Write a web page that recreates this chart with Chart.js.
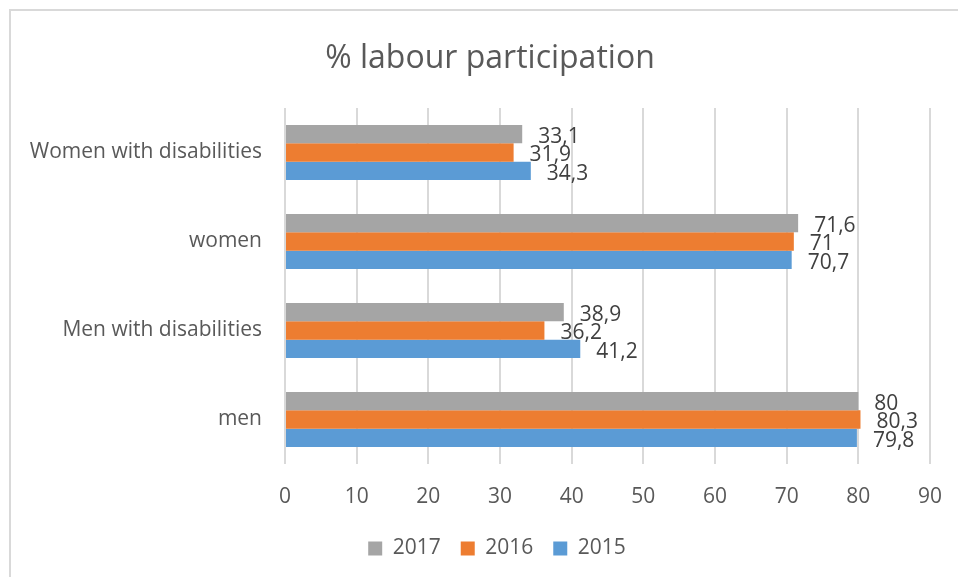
<!DOCTYPE html>
<html><head><meta charset="utf-8">
<script src="https://cdn.jsdelivr.net/npm/chart.js@4.4.1/dist/chart.umd.min.js"></script>
<style>
html,body{margin:0;padding:0;width:958px;height:577px;overflow:hidden;background:#fff;}
#frame{position:absolute;left:9px;top:9px;width:1000px;height:620px;border-left:2px solid #d9d9d9;border-top:2px solid #d9d9d9;}
#wrap{position:absolute;left:0;top:0;width:980px;height:577px;}
</style></head><body>
<div id="frame"></div>
<div id="wrap"><canvas id="c"></canvas></div>
<script>
const chartTitle = '% labour participation';
const categories = ['Women with disabilities', 'women', 'Men with disabilities', 'men'];
const seriesNames = ['2017', '2016', '2015'];
const values2017 = [33.1, 71.6, 38.9, 80];
const values2016 = [31.9, 71, 36.2, 80.3];
const values2015 = [34.3, 70.7, 41.2, 79.8];
const xMin = 0, xMax = 90, xStep = 10;
const seriesColors = ['#A5A5A5', '#ED7D31', '#5B9BD5'];

const FONT = '"Open Sans", "Noto Sans", sans-serif';

const valueLabels = {
  id: 'valueLabels',
  afterDatasetsDraw(chart) {
    const ctx = chart.ctx;
    ctx.save();
    ctx.font = '21px ' + FONT;
    ctx.fillStyle = '#404040';
    ctx.textAlign = 'left';
    ctx.textBaseline = 'middle';
    chart.data.datasets.forEach((ds, i) => {
      const meta = chart.getDatasetMeta(i);
      meta.data.forEach((bar, j) => {
        ctx.fillText(String(ds.data[j]).replace('.', ','), bar.x + 16, bar.y + 3);
      });
    });
    ctx.restore();
  }
};

// centre title and legend on the chart frame rather than the padded area
const centreBoxes = {
  id: 'centreBoxes',
  afterLayout(chart) {
    const move = (box, target) => {
      if (!box) return;
      const d = target - (box.left + box.right) / 2;
      box.left += d; box.right += d;
    };
    move(chart.titleBlock, 490);
    move(chart.legend, 497);
  }
};

new Chart(document.getElementById('c'), {
  type: 'bar',
  data: {
    labels: categories,
    datasets: [
      { label: seriesNames[0], data: values2017, backgroundColor: seriesColors[0] },
      { label: seriesNames[1], data: values2016, backgroundColor: seriesColors[1] },
      { label: seriesNames[2], data: values2015, backgroundColor: seriesColors[2] }
    ]
  },
  options: {
    indexAxis: 'y',
    responsive: true,
    maintainAspectRatio: false,
    animation: false,
    events: [],
    layout: { padding: { left: 0, right: 50, top: 0, bottom: 8 } },
    datasets: { bar: { categoryPercentage: 0.62, barPercentage: 1.0, borderWidth: 0 } },
    scales: {
      x: {
        min: xMin, max: xMax,
        ticks: { stepSize: xStep, font: { family: FONT, size: 21 }, color: '#595959', padding: 20 },
        grid: { color: '#d9d9d9', lineWidth: 2, drawTicks: false },
        border: { display: false },
        afterFit(scale) { scale.height = 54; }
      },
      y: {
        ticks: { font: { family: FONT, size: 21 }, color: '#595959', padding: 23 },
        grid: { display: false, drawTicks: false },
        border: { display: false },
        afterFit(scale) { scale.width = 285; }
      }
    },
    plugins: {
      title: {
        display: true, text: chartTitle, color: '#595959',
        font: { family: FONT, size: 32, weight: 'normal' },
        padding: { top: 40, bottom: 29.6 }
      },
      legend: {
        position: 'bottom',
        labels: { font: { family: FONT, size: 21 }, color: '#595959', boxWidth: 14, boxHeight: 14, padding: 20 }
      },
      tooltip: { enabled: false }
    }
  },
  plugins: [valueLabels, centreBoxes]
});
</script>
</body></html>
